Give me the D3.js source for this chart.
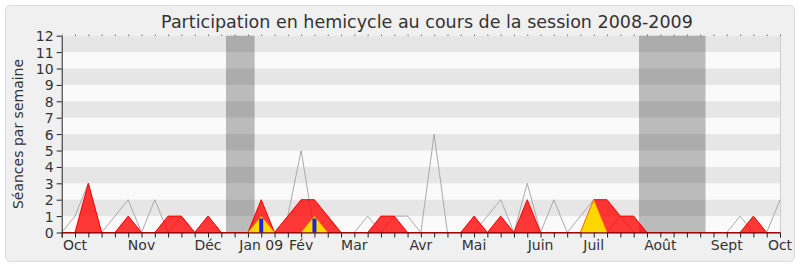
<!DOCTYPE html>
<html>
<head>
<meta charset="utf-8">
<script src="https://cdn.jsdelivr.net/npm/d3@7"></script>
<style>
  body { margin: 0; background: #fff; }
  text { font-family: "DejaVu Sans", sans-serif; }
</style>
</head>
<body>
<div id="wrapper"></div>
<script>
// une valeur par semaine, semaine 0 = debut de session
const weeks = d3.range(0, 55);
const seancesMediane = [0,1,3,0,1,2,0,2,0,1, 0,1,0,0,0,1,0,1,5,0, 1,0,0,1,0,1,1,0,6,0,
                        0,0,1,2,0,3,0,2,0,1, 2,0,1,0,0,0,0,0,0,0, 0,1,0,0,2];
const presences = [0,0,3,0,0,1,0,0,1,1, 0,1,0,0,0,2,0,1,2,2, 1,0,0,0,1,1,0,0,0,0,
                   0,1,0,1,0,2,0,0,0,0, 2,2,1,1,0,0,0,0,0,0, 0,0,1,0,0];
const interventions = [0,0,0,0,0,0,0,0,0,0, 0,0,0,0,0,1,0,0,0,1, 0,0,0,0,0,0,0,0,0,0,
                       0,0,0,0,0,0,0,0,0,0, 2,0,0,0,0,0,0,0,0,0, 0,0,0,0,0];
const questionWeeks = [15, 19];
const questionValues = [0.85, 0.85];
const vacances = [[12.35, 14.5], [43.4, 48.4]];
const monthLabels = ["Oct", "Nov", "Déc", "Jan 09", "Fév", "Mar", "Avr", "Mai", "Juin", "Juil", "Août", "Sept", "Oct"];
const monthWeeks = [1, 6, 11, 15, 18, 22, 27, 31, 36, 40, 45, 50, 54];
const yTicks = d3.range(0, 13);

var dimension = {
    width: 800,
    height: 267,
    margin: { top: 35.7, left: 61.7, bottom: 34.5, right: 20 }
};
dimension.boundedWidth = dimension.width - dimension.margin.left - dimension.margin.right;
dimension.boundedHeight = dimension.height - dimension.margin.top - dimension.margin.bottom;

const svg = d3.select("#wrapper").append("svg")
    .attr("width", dimension.width)
    .attr("height", dimension.height);

// panneau de fond
svg.append("rect")
    .attr("x", 5.5).attr("y", 5.5)
    .attr("width", 789).attr("height", 256)
    .attr("rx", 5)
    .attr("fill", "#f0f0f0")
    .attr("stroke", "#dcdcdc");

svg.append("text")
    .attr("x", 427).attr("y", 27.5)
    .attr("text-anchor", "middle")
    .attr("font-size", 17.5)
    .attr("fill", "#333")
    .text("Participation en hemicycle au cours de la session 2008-2009");

const bounded = svg.append("g")
    .attr("transform", `translate(${dimension.margin.left}, ${dimension.margin.top})`);

const xScaler = d3.scaleLinear().domain([0, 54]).range([0, dimension.boundedWidth]);
const yScaler = d3.scaleLinear().domain([0, 12]).range([dimension.boundedHeight, 0]);

// bandes horizontales
bounded.append("rect")
    .attr("width", dimension.boundedWidth).attr("height", dimension.boundedHeight)
    .attr("fill", "#fafafa");
bounded.selectAll(".band")
    .data(d3.range(1, 12, 2))
    .join("rect")
    .attr("x", 0)
    .attr("y", d => yScaler(d + 1))
    .attr("width", dimension.boundedWidth)
    .attr("height", d => yScaler(d) - yScaler(d + 1))
    .attr("fill", "#e6e6e6");

// vacances parlementaires
bounded.selectAll(".vac")
    .data(vacances)
    .join("rect")
    .attr("x", d => xScaler(d[0]))
    .attr("y", 0)
    .attr("width", d => xScaler(d[1]) - xScaler(d[0]))
    .attr("height", dimension.boundedHeight)
    .attr("fill", "rgba(0,0,0,0.25)");

bounded.append("line")
    .attr("x1", dimension.boundedWidth + 0.5).attr("x2", dimension.boundedWidth + 0.5)
    .attr("y1", 0).attr("y2", dimension.boundedHeight)
    .attr("stroke", "#cfcfcf");

// series
const line = d3.line()
    .x((d, i) => xScaler(weeks[i]))
    .y(d => yScaler(d));
const area = d3.area()
    .x((d, i) => xScaler(weeks[i]))
    .y0(yScaler(0))
    .y1(d => yScaler(d));

bounded.append("path")
    .attr("d", line(seancesMediane))
    .attr("fill", "none")
    .attr("stroke", "#aaa");

bounded.append("path")
    .attr("d", area(presences))
    .attr("fill", "rgba(255,0,0,0.78)")
    .attr("stroke", "#f00");

bounded.append("path")
    .attr("d", area(interventions))
    .attr("fill", "#ffd700");
const peakLine = d3.line()
    .defined((d, i, arr) => d > 0 || arr[i - 1] > 0 || arr[i + 1] > 0)
    .x((d, i) => xScaler(weeks[i]))
    .y(d => yScaler(d));
bounded.append("path")
    .attr("d", peakLine(interventions))
    .attr("fill", "none")
    .attr("stroke", "#ff8c00")
    .attr("stroke-width", 0.8);

bounded.selectAll(".question")
    .data(questionValues)
    .join("rect")
    .attr("x", (d, i) => xScaler(questionWeeks[i]) - 2)
    .attr("y", d => yScaler(d))
    .attr("width", 4)
    .attr("height", d => yScaler(0) - yScaler(d))
    .attr("fill", "#2222dd");

// axes
const Ax_x = d3.axisBottom(xScaler).tickValues(weeks).tickSize(5).tickFormat("");
bounded.append("g")
    .attr("transform", `translate(0, ${dimension.boundedHeight})`)
    .call(Ax_x)
    .call(g => g.selectAll("line").attr("stroke", "#222"))
    .call(g => g.select("path").attr("stroke", "#3a1010"));

const Ax_top = d3.axisTop(xScaler).tickValues(weeks).tickSize(1).tickFormat("");
bounded.append("g")
    .call(Ax_top)
    .call(g => g.select("path").remove())
    .call(g => g.selectAll("line").attr("stroke", "#333"));

const Ax_y = d3.axisLeft(yScaler).tickValues(yTicks).tickSize(5).tickSizeOuter(0);
bounded.append("g")
    .call(Ax_y)
    .call(g => g.selectAll("line, path").attr("stroke", "#222"))
    .call(g => g.selectAll("text")
        .attr("font-size", 14).attr("fill", "#333")
        .attr("font-family", "DejaVu Sans").attr("x", -8).attr("dy", "0.36em"));

bounded.selectAll(".month")
    .data(monthLabels)
    .join("text")
    .attr("x", (d, i) => xScaler(monthWeeks[i]))
    .attr("y", dimension.boundedHeight + 18)
    .attr("text-anchor", "middle")
    .attr("font-size", 14)
    .attr("fill", "#333")
    .text(d => d);

svg.append("text")
    .attr("transform", "translate(23, 134) rotate(-90)")
    .attr("text-anchor", "middle")
    .attr("font-size", 14)
    .attr("fill", "#333")
    .text("Séances par semaine");
</script>
</body>
</html>
